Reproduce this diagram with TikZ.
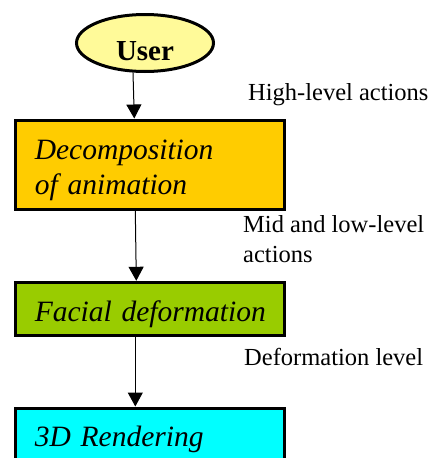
\documentclass[tikz,border=0pt]{standalone}
\usepackage{fontspec}
\setmainfont{Liberation Serif}
\usepackage{tikz}
\usetikzlibrary{arrows.meta}
\usetikzlibrary{shapes}
\usetikzlibrary{positioning}
\tikzstyle{flow}=[line width=1pt,-{Triangle[length=14pt,width=15pt]}]
\tikzstyle{note}=[anchor=base west,inner sep=0pt,font=\fontsize{24.5}{30}\selectfont,align=left]
\begin{document}
\begin{tikzpicture}[
  x=1pt,y=-1pt,
  actor/.style={ellipse,draw,line width=3pt,fill=pale yellow,minimum width=137pt,minimum height=57pt,inner sep=2pt,
    font=\fontsize{29}{34}\selectfont\bfseries,text height=34pt,text depth=0pt},
  stage/.style={rectangle,draw,line width=3pt,anchor=north west,text width=231pt,inner xsep=19pt,inner ysep=0pt,
    align=left,text height=31pt,font=\fontsize{29.5}{35}\selectfont\itshape},
  tall stage/.style={stage,minimum height=89pt},
  flat stage/.style={stage,minimum height=52.7pt},
]
  \colorlet{pale yellow}{yellow!40}
  \definecolor{amber}{HTML}{FFCC00}
  \definecolor{lime}{HTML}{99CC00}
  \definecolor{aqua}{HTML}{00FFFF}
  \clip (0,0) rectangle (430,458);
  \node[actor] (user) at (145,43) {User};
  \node[tall stage,fill=amber] (dec) at (14.3,118.5) {Decomposition\\of animation};
  \node[flat stage,fill=lime] (fac) at (14.3,280.8) {\mbox{Facial deformation}};
  \node[flat stage,fill=aqua] (ren) at (14.3,406.5) {3D Rendering};
  % connectors
  \draw[flow] ([xshift=-12pt]user.south) -- ([xshift=-16pt]dec.north);
  \draw[flow] ([xshift=-15pt]dec.south) -- ([xshift=-14pt]fac.north);
  \draw[flow] ([xshift=-15pt]fac.south) -- ([xshift=-15pt]ren.north);
  % level labels
  \node[note] (high) at (248,100) {High-level actions};
  \node[note] (mid) at (243,262) {Mid and low-level\\actions};
  \node[note] (low) at (244,365) {Deformation level};
\end{tikzpicture}
\end{document}
